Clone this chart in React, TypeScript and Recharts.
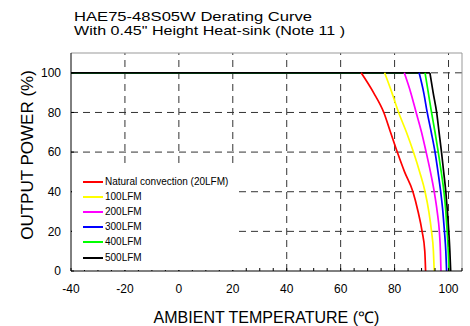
import { LineChart, Line, XAxis, YAxis, ReferenceLine, Customized } from 'recharts';

// output power levels (%) read at each step of the derating curves
const powerSteps = [100, 100, 90, 80, 70, 60, 50, 40, 30, 20, 10, 0];

// ambient temperature (C) at each power step, per airflow
const naturalTemps = [-40, 67.6, 72.2, 76, 78.5, 81, 83.7, 86.8, 88.7, 90.2, 91.2, 91.5];
const lfm100Temps = [-40, 76.3, 79, 81.5, 84.4, 87, 89.3, 91.3, 92.7, 93.7, 94.4, 94.7];
const lfm200Temps = [-40, 83.6, 86, 88, 90, 91.7, 93.3, 94.7, 95.8, 96.6, 97, 97.2];
const lfm300Temps = [-40, 89.1, 90.8, 92.1, 93.6, 95, 96.1, 97.1, 97.9, 98.5, 99, 99.3];
const lfm400Temps = [-40, 91.3, 92.5, 93.7, 95, 96.2, 97.3, 98.3, 99, 99.5, 99.9, 100.2];
const lfm500Temps = [-40, 93.1, 94.3, 95.6, 96.5, 97.4, 98.2, 99, 99.6, 100.1, 100.5, 100.8];

const seriesNames = [
  'Natural convection (20LFM)',
  '100LFM',
  '200LFM',
  '300LFM',
  '400LFM',
  '500LFM',
];
const seriesColors = ['#ff0000', '#ffff00', '#ff00ff', '#0000ff', '#00ff00', '#000000'];
const seriesTemps = [naturalTemps, lfm100Temps, lfm200Temps, lfm300Temps, lfm400Temps, lfm500Temps];

const xTicks = [-40, -35, -30, -25, -20, -15, -10, -5, 0, 5, 10, 15, 20, 25, 30, 35, 40, 45, 50, 55, 60, 65, 70, 75, 80, 85, 90, 95, 100, 105];
const xLabelTicks = [-40, -20, 0, 20, 40, 60, 80, 100];
const xGrid = [-20, 0, 20, 40, 60, 80, 100];
const yTicks = [0, 20, 40, 60, 80, 100];
const yGrid = [20, 40, 60, 80, 100];

const FONT = '"Liberation Sans", Arial, Helvetica, sans-serif';

const series = seriesTemps.map((temps, i) => {
  const pts = temps.map((t, j) => ({ t, p: powerSteps[j] }));
  return {
    name: seriesNames[i],
    color: seriesColors[i],
    flat: pts.slice(0, 2),
    curve: pts.slice(1),
  };
});

function Texts() {
  return (
    <g fontFamily={FONT} fill="#000">
      <text x={74} y={21} fontSize={13.5} textLength={238} lengthAdjust="spacingAndGlyphs">
        HAE75-48S05W Derating Curve
      </text>
      <text x={74} y={34.5} fontSize={13.5} textLength={271} lengthAdjust="spacingAndGlyphs">
        With 0.45" Height Heat-sink (Note 11 )
      </text>
      <text transform="translate(33,155) rotate(-90)" textAnchor="middle" fontSize={17}>
        OUTPUT POWER (%)
      </text>
      <text x={266.5} y={323} textAnchor="middle" fontSize={16}>
        AMBIENT TEMPERATURE (℃)
      </text>
    </g>
  );
}

export default function App() {
  return (
    <div style={{ position: 'absolute', left: 0, top: 0, width: 470, height: 326, background: '#fff' }}>
      <LineChart width={470} height={326} margin={{ top: 53, right: 8, left: 0, bottom: 0 }}>
        {xGrid.map((v) => (
          <ReferenceLine key={'gx' + v} x={v} stroke="#333" strokeDasharray="7 5" />
        ))}
        {yGrid.map((v) => (
          <ReferenceLine key={'gy' + v} y={v} stroke="#333" strokeDasharray="7 5" />
        ))}
        <ReferenceLine y={110} stroke="#999" />
        <ReferenceLine x={105} stroke="#999" />
        <XAxis
          dataKey="t"
          type="number"
          domain={[-40, 105]}
          ticks={xTicks}
          interval={0}
          allowDataOverflow
          height={55}
          tickSize={-3}
          tickMargin={16}
          tickFormatter={(v: number) => (xLabelTicks.includes(v) ? String(v) : '')}
          axisLine={{ stroke: '#000' }}
          tickLine={{ stroke: '#000' }}
          tick={{ fill: '#000', fontSize: 12, fontFamily: FONT }}
        />
        <YAxis
          dataKey="p"
          type="number"
          domain={[0, 110]}
          ticks={yTicks}
          interval={0}
          allowDataOverflow
          width={71}
          tickSize={-3}
          tickMargin={13}
          axisLine={{ stroke: '#000' }}
          tickLine={{ stroke: '#000' }}
          tick={{ fill: '#000', fontSize: 12, fontFamily: FONT }}
        />
        {series.map((s) => (
          <Line
            key={'f' + s.name}
            data={s.flat}
            dataKey="p"
            type="linear"
            stroke={s.color}
            strokeWidth={1.7}
            dot={false}
            isAnimationActive={false}
          />
        ))}
        {series.map((s) => (
          <Line
            key={'c' + s.name}
            data={s.curve}
            dataKey="p"
            name={s.name}
            type="monotone"
            stroke={s.color}
            strokeWidth={1.7}
            dot={false}
            isAnimationActive={false}
          />
        ))}
        <Customized component={Texts} />
      </LineChart>
      <div
        style={{
          position: 'absolute',
          left: 72,
          top: 167,
          width: 164,
          height: 103,
          background: '#fff',
          fontFamily: FONT,
          fontSize: 10,
          color: '#000',
        }}
      >
        {series.map((s, i) => (
          <div
            key={s.name}
            style={{
              position: 'absolute',
              left: 11,
              top: Math.round(8 + i * 15.1),
              width: 180,
              height: 14,
              lineHeight: '14px',
              whiteSpace: 'nowrap',
            }}
          >
            <div
              style={{
                position: 'absolute',
                left: 0,
                top: 6,
                width: 20,
                height: 0,
                borderTop: `2px solid ${s.color}`,
              }}
            />
            <div style={{ position: 'absolute', left: 22, top: 0 }}>{s.name}</div>
          </div>
        ))}
      </div>
    </div>
  );
}
